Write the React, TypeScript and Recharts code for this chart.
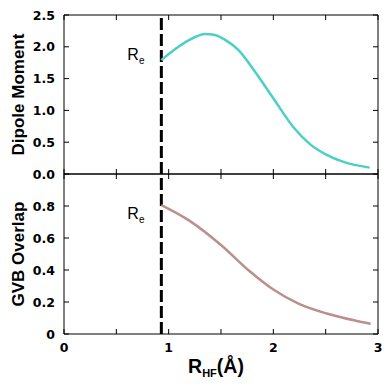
import React from 'react';
import { LineChart, Line, XAxis, YAxis, ReferenceLine, Label } from 'recharts';

// R(H-F) in Angstrom, equilibrium distance
const RE = 0.93;

const dipoleR = [0.93, 1.06, 1.19, 1.35, 1.43, 1.54, 1.665, 1.82, 2.0, 2.19, 2.35, 2.51, 2.67, 2.92];
const dipoleValues = [1.79, 1.96, 2.1, 2.2, 2.19, 2.11, 1.95, 1.62, 1.19, 0.74, 0.47, 0.3, 0.19, 0.1];

const overlapR = [0.93, 1.19, 1.5, 1.76, 2.0, 2.24, 2.51, 2.78, 2.93];
const overlapValues = [0.806, 0.712, 0.556, 0.4, 0.278, 0.19, 0.128, 0.084, 0.064];

const xTicks = [0, 0.5, 1, 1.5, 2, 2.5, 3];
const dipoleTicks = [0, 0.5, 1, 1.5, 2, 2.5];
const overlapTicks = [0, 0.2, 0.4, 0.6, 0.8];

const dipoleData = dipoleR.map((r, i) => ({ r, v: dipoleValues[i] }));
const overlapData = overlapR.map((r, i) => ({ r, v: overlapValues[i] }));

// layout constants (plot box)
const LEFT = 64;
const RIGHT = 378;
const TICK = 5;
const TICK_FONT = '"DejaVu Sans", sans-serif';
const LABEL_FONT = '"Liberation Sans", Arial, sans-serif';

const makeYTick = (fmt: (v: number) => string) => (props: any) => {
  const { y, payload } = props;
  return (
    <g>
      <line x1={LEFT} x2={LEFT + TICK} y1={y} y2={y} stroke="#000" strokeWidth={1} />
      <line x1={RIGHT} x2={RIGHT - TICK} y1={y} y2={y} stroke="#000" strokeWidth={1} />
      <text x={55} y={y} textAnchor="end" dominantBaseline="central" fontFamily={TICK_FONT}
        fontWeight="bold" fontSize={12.5} fill="#000">
        {fmt(payload.value)}
      </text>
    </g>
  );
};

const makeXTick = (top: number, bottom: number, labels: boolean) => (props: any) => {
  const { x, payload } = props;
  const v = payload.value;
  return (
    <g>
      <line x1={x} x2={x} y1={top} y2={top + TICK} stroke="#000" strokeWidth={1} />
      <line x1={x} x2={x} y1={bottom} y2={bottom - TICK} stroke="#000" strokeWidth={1} />
      {labels && Number.isInteger(v) && (
        <text x={x} y={bottom + 13} textAnchor="middle" dominantBaseline="central"
          fontFamily={TICK_FONT} fontWeight="bold" fontSize={12.5} fill="#000">
          {v}
        </text>
      )}
    </g>
  );
};

const yTitle = (title: string) => (props: any) => {
  const { viewBox } = props;
  const cy = viewBox.y + viewBox.height / 2;
  return (
    <text x={18} y={cy} transform={`rotate(-90, 18, ${cy})`} textAnchor="middle"
      dominantBaseline="central" fontFamily={LABEL_FONT} fontWeight="bold" fontSize={17} fill="#000">
      {title}
    </text>
  );
};

const reLabel = (props: any) => {
  const { viewBox } = props;
  return (
    <text x={viewBox.x - 34} y={viewBox.y + 45} fontFamily={LABEL_FONT} fontSize={16} fill="#000">
      R<tspan fontSize={10} dy={4}>e</tspan>
    </text>
  );
};

const xTitle = () => (
  <text x={216} y={213} textAnchor="middle" fontFamily={LABEL_FONT} fontWeight="bold" fontSize={19.5} fill="#000">
    R<tspan fontSize={11} dy={4}>HF</tspan><tspan dy={-4}>(Å)</tspan>
  </text>
);

export default function App() {
  return (
    <div style={{ position: 'absolute', left: 0, top: 0, width: 386, height: 386, background: '#fff' }}>
      <div style={{ position: 'absolute', left: 0, top: 0 }}>
        <LineChart width={386} height={190} data={dipoleData} margin={{ top: 15, right: 8, left: 0, bottom: 15 }}>
          <XAxis dataKey="r" type="number" domain={[0, 3]} ticks={xTicks} height={1}
            axisLine={{ stroke: '#000' }} tickLine={false} tick={makeXTick(15, 174, false)} />
          <YAxis type="number" domain={[0, 2.5]} ticks={dipoleTicks} width={64}
            axisLine={{ stroke: '#000' }} tickLine={false} tick={makeYTick((v) => v.toFixed(1))}>
            <Label content={yTitle('Dipole Moment')} />
          </YAxis>
          <ReferenceLine y={2.5} stroke="#000" strokeWidth={1} />
          <ReferenceLine x={3} stroke="#000" strokeWidth={1} />
          <ReferenceLine x={RE} stroke="#000" strokeWidth={3} strokeDasharray="12 4">
            <Label content={reLabel} />
          </ReferenceLine>
          <Line type="monotone" dataKey="v" stroke="#4ccfc7" strokeWidth={2.5} dot={false}
            isAnimationActive={false} />
        </LineChart>
      </div>
      <div style={{ position: 'absolute', left: 0, top: 160 }}>
        <LineChart width={386} height={226} data={overlapData} margin={{ top: 14, right: 8, left: 0, bottom: 0 }}>
          <XAxis dataKey="r" type="number" domain={[0, 3]} ticks={xTicks} height={52}
            axisLine={{ stroke: '#000' }} tickLine={false} tick={makeXTick(14, 174, true)}>
            <Label content={xTitle} />
          </XAxis>
          <YAxis type="number" domain={[0, 1]} ticks={overlapTicks} width={64}
            axisLine={{ stroke: '#000' }} tickLine={false}
            tick={makeYTick((v) => (v === 0 ? '0' : v.toFixed(1)))}>
            <Label content={yTitle('GVB Overlap')} />
          </YAxis>
          <ReferenceLine y={1} stroke="#000" strokeWidth={1} />
          <ReferenceLine x={3} stroke="#000" strokeWidth={1} />
          <ReferenceLine x={RE} stroke="#000" strokeWidth={3} strokeDasharray="12 4">
            <Label content={reLabel} />
          </ReferenceLine>
          <Line type="monotone" dataKey="v" stroke="#bc8f8f" strokeWidth={2.5} dot={false}
            isAnimationActive={false} />
        </LineChart>
      </div>
    </div>
  );
}
